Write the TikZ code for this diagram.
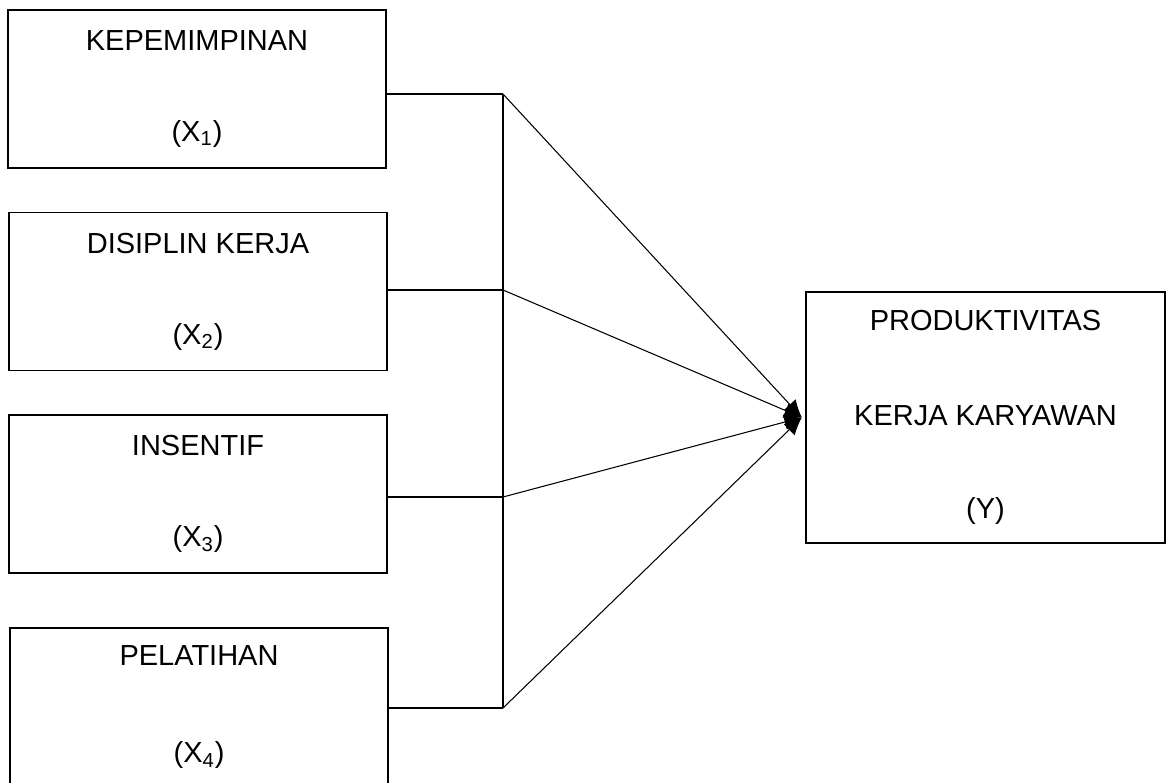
\documentclass[tikz,border=0pt]{standalone}
\usepackage{fontspec}
\setmainfont{Liberation Sans}
\usetikzlibrary{arrows.meta}
\begin{document}
\begin{tikzpicture}[x=0.02cm,y=-0.02cm,line width=0.6pt,
        every node/.style={font=\fontsize{16.5}{19}\selectfont}]
        \useasboundingbox (0,0) rectangle (1176,783);
        \begin{scope}[every node/.style={rectangle,draw,line width=0.8pt,
                        align=center,inner sep=0pt,minimum width=7.56cm,
                        minimum height=3.16cm,font=\fontsize{16.5}{19}\selectfont}]
            \node (X1) at (197,89) {KEPEMIMPINAN\\[1.15cm](X\textsubscript{1})};
            \node (X2) at (198,291.5) {DISIPLIN KERJA\\[1.15cm](X\textsubscript{2})};
            \node (X3) at (198,494) {INSENTIF\\[1.15cm](X\textsubscript{3})};
            \node (X4) at (199,707) {PELATIHAN\\[1.28cm](X\textsubscript{4})};
            \node (Y) at (985.5,417.5) [minimum width=7.18cm,minimum height=5.02cm]
                {PRODUKTIVITAS\\[1.22cm]KERJA KARYAWAN\\[1.2cm](Y)};
        \end{scope}

        \coordinate (J1) at (503,94);
        \coordinate (J2) at (503,290);
        \coordinate (J3) at (503,497);
        \coordinate (J4) at (503,708);

        \draw (X1.east |- J1) -- (J1);
        \draw (X2.east |- J2) -- (J2);
        \draw (X3.east |- J3) -- (J3);
        \draw (X4.east |- J4) -- (J4);
        \draw (J1) -- (J4);

        \path[-{Latex[length=10pt,width=9pt]}] (J1) edge ([xshift=-2pt]Y.west);
        \path[-{Latex[length=10pt,width=9pt]}] (J2) edge ([xshift=-2pt]Y.west);
        \path[-{Latex[length=10pt,width=9pt]}] (J3) edge ([xshift=-2pt]Y.west);
        \path[-{Latex[length=10pt,width=9pt]}] (J4) edge ([xshift=-2pt]Y.west);
    \end{tikzpicture}
\end{document}
